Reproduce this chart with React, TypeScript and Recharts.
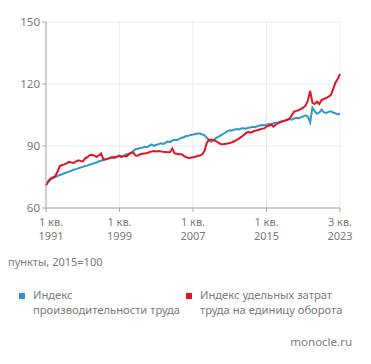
import React from 'react';
import { LineChart, Line, XAxis, YAxis, CartesianGrid } from 'recharts';

// quarterly values, 1 кв. 1991 .. 3 кв. 2023
const productivity = [
  71.0, 72.5, 73.8, 74.5, 75.0, 75.5, 76.0, 76.3, 76.8, 77.2, 77.6, 78.0, 78.5, 78.8, 79.2, 79.6,
  79.9, 80.3, 80.5, 81.0, 81.3, 81.7, 82.0, 82.6, 82.9, 83.3, 83.6, 83.9, 84.2, 84.4, 84.3, 84.8,
  85.0, 84.6, 85.4, 86.0, 86.3, 86.8, 87.6, 88.5, 88.7, 89.0, 89.2, 89.6, 89.4, 90.2, 90.8, 90.0,
  90.6, 90.9, 91.3, 91.0, 91.5, 92.2, 91.9, 92.7, 93.0, 92.8, 93.5, 94.0, 94.2, 94.8, 95.0, 95.3,
  95.5, 95.8, 96.0, 96.0, 95.6, 95.2, 94.0, 92.5, 92.0, 93.0, 93.8, 94.5, 95.0, 95.8, 96.4, 97.2,
  97.6, 97.5, 97.9, 98.2, 98.0, 98.5, 98.6, 98.4, 98.8, 99.0, 99.3, 99.1, 99.6, 99.9, 100.2, 100.0,
  100.3, 100.6, 100.5, 101.0, 101.3, 101.4, 101.8, 102.1, 102.4, 102.6, 103.0, 102.7, 103.3, 103.6, 103.4, 104.0,
  104.3, 104.8, 104.2, 101.4, 108.5, 106.8, 105.6, 106.2, 107.6, 106.3, 106.0, 106.5, 106.8, 106.2, 105.8, 105.4,
  105.5,
];

const unitCost = [
  71.0, 73.0, 74.2, 74.8, 75.4, 77.5, 80.3, 80.8, 81.1, 81.6, 82.3, 82.0, 81.8, 82.5, 83.1, 82.8,
  82.6, 83.9, 84.6, 85.6, 85.8, 85.3, 84.8, 85.5, 86.3, 83.4, 83.6, 83.9, 84.3, 84.6, 84.5, 85.0,
  85.4, 84.8, 85.2, 85.0, 85.8, 86.6, 86.8, 85.4, 85.3, 86.0, 86.2, 86.4, 86.6, 87.0, 87.4, 87.6,
  87.3, 87.6, 87.4, 87.2, 87.1, 87.0, 87.1, 88.7, 86.4, 86.2, 86.0, 86.0, 85.2, 84.6, 84.2, 84.3,
  84.6, 84.8, 85.2, 85.4, 86.0, 87.5, 91.5, 93.1, 93.0, 92.8, 92.4, 91.6, 91.0, 90.8, 91.0, 91.2,
  91.4, 91.8, 92.3, 93.0, 93.6, 94.4, 95.2, 96.2, 96.8, 96.4, 96.9, 97.4, 97.6, 98.0, 98.3, 98.5,
  99.4, 99.8, 100.4, 99.4, 100.3, 101.0, 101.4, 101.9, 102.2, 102.7, 103.2, 104.8, 106.6, 107.0, 107.3, 108.0,
  108.6, 109.5, 112.0, 116.6, 111.0, 110.3, 111.4, 110.3, 112.2, 112.8, 113.2, 113.9, 114.6, 117.5, 120.6, 122.4,
  124.9,
];

const tickPositions = [0, 32, 64, 96, 128];
const tickQuarters = ['1 кв.', '1 кв.', '1 кв.', '1 кв.', '3 кв.'];
const tickYears = ['1991', '1999', '2007', '2015', '2023'];
const yTicks = [60, 90, 120, 150];

const BLUE = '#2f98c9';
const RED = '#e3141f';
const TEXT = '#7a7a7a';
const FONT = '"Noto Sans", sans-serif';

const data = productivity.map((v, i) => ({ q: i, prod: v, cost: unitCost[i] }));

const QuarterTick = (props: any) => {
  const { x, y, payload } = props;
  const idx = tickPositions.indexOf(payload.value);
  const cx = idx === 0 ? x + 5 : x;
  return (
    <g>
      <text x={cx} y={y + 12} textAnchor="middle" fill={TEXT} fontSize={11} fontFamily={FONT}>
        {tickQuarters[idx]}
      </text>
      <text x={cx} y={y + 25.5} textAnchor="middle" fill={TEXT} fontSize={11} fontFamily={FONT}>
        {tickYears[idx]}
      </text>
    </g>
  );
};

const LegendItem: React.FC<{ color: string; left: number; lines: string[] }> = ({ color, left, lines }) => (
  <div style={{ position: 'absolute', left, top: 280 }}>
    <div style={{ position: 'absolute', left: 0, top: 5, width: 6, height: 6, background: color }} />
    <div style={{ position: 'absolute', left: 14, top: 0, whiteSpace: 'nowrap', fontSize: 11.2, lineHeight: '14.5px', color: TEXT }}>
      {lines.map((l) => (
        <div key={l}>{l}</div>
      ))}
    </div>
  </div>
);

export default function App() {
  return (
    <div style={{ position: 'relative', width: 363, height: 356, fontFamily: FONT, background: '#fff' }}>
      <LineChart width={355} height={245} data={data} margin={{ top: 14, right: 23, bottom: 0, left: 0 }}>
        <CartesianGrid stroke="#ebebeb" strokeWidth={1} />
        <XAxis
          dataKey="q"
          type="number"
          domain={[0, 128]}
          ticks={tickPositions}
          tick={<QuarterTick />}
          height={45}
          axisLine={{ stroke: '#a8a8a8' }}
          tickLine={{ stroke: '#a8a8a8' }}
          tickSize={4}
          interval={0}
        />
        <YAxis
          domain={[60, 150]}
          ticks={yTicks}
          width={38}
          tick={{ fill: TEXT, fontSize: 11.5, fontFamily: FONT }}
          axisLine={{ stroke: '#a8a8a8' }}
          tickLine={{ stroke: '#a8a8a8' }}
          tickSize={4}
        />
        <Line dataKey="prod" stroke={BLUE} strokeWidth={2} dot={false} isAnimationActive={false} />
        <Line dataKey="cost" stroke={RED} strokeWidth={2} dot={false} isAnimationActive={false} />
      </LineChart>
      <div style={{ position: 'absolute', left: 0, top: 247, fontSize: 11, lineHeight: '14px', color: TEXT }}>
        пункты, 2015=100
      </div>
      <LegendItem color={BLUE} left={11} lines={['Индекс', 'производительности труда']} />
      <LegendItem color={RED} left={178} lines={['Индекс удельных затрат', 'труда на единицу оборота']} />
      <div style={{ position: 'absolute', right: 19, top: 326, fontSize: 11.5, lineHeight: '16px', color: TEXT }}>
        monocle.ru
      </div>
    </div>
  );
}
